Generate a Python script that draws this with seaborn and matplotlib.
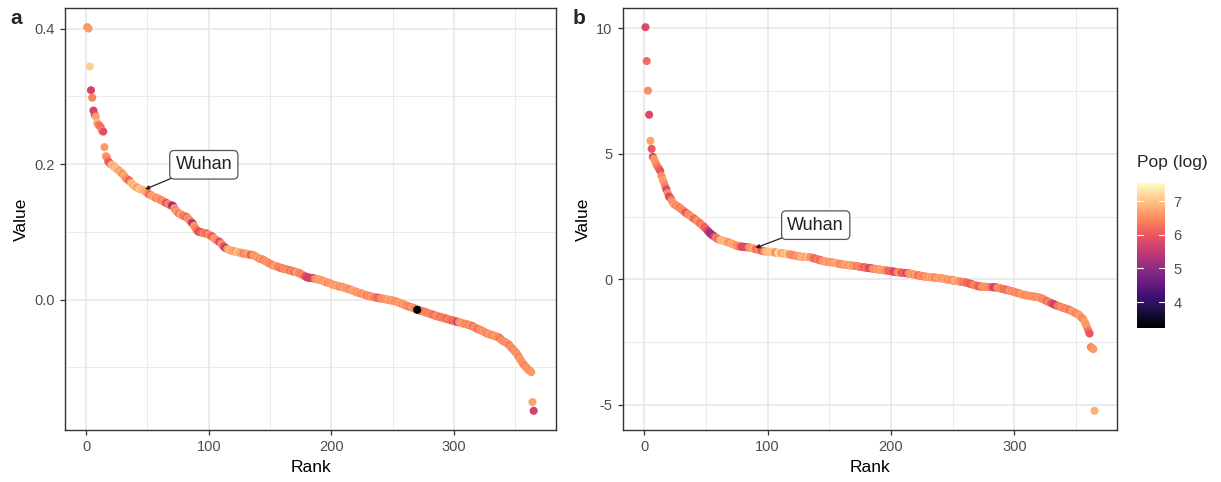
import numpy as np
import pandas as pd
import matplotlib
matplotlib.use("Agg")
import matplotlib.pyplot as plt
import seaborn as sns
from matplotlib.ticker import MultipleLocator
from matplotlib.colors import Normalize
from matplotlib.cm import ScalarMappable

# ---- data -------------------------------------------------------------
value_a = [
    .402, .400, .344, .309, .298, .279, .273, .270, .261, .258,
    .257, .254, .249, .248, .225, .212, .210, .204, .202, .200,
    .199, .198, .196, .194, .193, .192, .190, .188, .187, .185,
    .183, .180, .178, .177, .176, .174, .172, .170, .168, .167,
    .166, .165, .164, .163, .163, .162, .162, .160, .158, .157,
    .156, .155, .154, .153, .152, .151, .150, .150, .149, .148,
    .147, .146, .145, .144, .143, .142, .141, .140, .139, .139,
    .138, .135, .132, .130, .128, .127, .126, .125, .124, .123,
    .123, .122, .120, .118, .116, .114, .112, .109, .106, .103,
    .101, .100, .100, .099, .099, .098, .098, .098, .097, .096,
    .095, .094, .093, .091, .090, .088, .087, .086, .085, .083,
    .081, .079, .077, .076, .075, .074, .073, .073, .072, .072,
    .071, .071, .070, .070, .070, .069, .069, .068, .068, .068,
    .067, .067, .067, .066, .066, .066, .065, .064, .063, .062,
    .061, .060, .060, .059, .058, .057, .056, .055, .054, .053,
    .052, .051, .050, .050, .049, .049, .048, .047, .047, .046,
    .046, .045, .045, .044, .044, .043, .043, .042, .042, .041,
    .041, .040, .040, .039, .038, .037, .036, .035, .034, .033,
    .033, .032, .032, .032, .032, .031, .031, .030, .030, .030,
    .029, .029, .028, .027, .026, .026, .025, .025, .024, .023,
    .022, .022, .021, .021, .020, .020, .019, .019, .019, .018,
    .017, .017, .016, .016, .015, .014, .014, .013, .012, .012,
    .011, .010, .010, .009, .009, .008, .007, .007, .006, .006,
    .005, .005, .004, .004, .004, .003, .003, .003, .002, .002,
    .002, .001, .001, .001, .000, .000, .000, -.001, -.001, -.001,
    -.002, -.002, -.003, -.004, -.004, -.005, -.006, -.006, -.007, -.008,
    -.009, -.009, -.010, -.011, -.011, -.012, -.012, -.013, -.014, -.015,
    -.015, -.016, -.016, -.017, -.017, -.018, -.019, -.019, -.020, -.021,
    -.021, -.022, -.022, -.023, -.024, -.024, -.025, -.025, -.026, -.026,
    -.027, -.027, -.028, -.028, -.029, -.029, -.030, -.030, -.031, -.031,
    -.032, -.032, -.033, -.033, -.034, -.034, -.035, -.035, -.036, -.036,
    -.037, -.037, -.038, -.038, -.039, -.040, -.041, -.042, -.043, -.044,
    -.044, -.045, -.046, -.047, -.048, -.049, -.050, -.050, -.051, -.052,
    -.052, -.053, -.053, -.054, -.055, -.055, -.056, -.058, -.060, -.061,
    -.062, -.063, -.064, -.065, -.067, -.069, -.071, -.073, -.075, -.077,
    -.079, -.082, -.085, -.088, -.091, -.094, -.096, -.098, -.100, -.102,
    -.104, -.105, -.107, -.151, -.164,
]

pop_a = [
    6.5, 6.6, 7.1, 5.7, 6.4, 5.7, 5.8, 6.7, 6.9, 6.5,
    6.3, 6.2, 6.6, 5.9, 6.6, 6.8, 6.5, 6.2, 5.9, 6.1,
    7.0, 6.9, 6.7, 7.1, 6.8, 7.0, 6.6, 6.9, 6.7, 6.5,
    6.8, 6.7, 6.4, 6.6, 6.0, 6.3, 6.9, 7.0, 6.7, 7.1,
    6.8, 6.6, 6.9, 7.0, 7.1, 6.8, 7.0, 6.7, 6.9, 6.6,
    6.4, 6.1, 6.5, 6.7, 6.6, 6.8, 6.4, 6.5, 6.7, 6.6,
    6.5, 6.3, 6.7, 6.4, 6.2, 5.7, 6.6, 6.3, 6.5, 5.3,
    5.2, 6.6, 6.4, 6.7, 6.5, 6.3, 6.6, 6.8, 6.4, 6.2,
    6.5, 6.1, 6.6, 6.4, 6.7, 5.9, 5.3, 6.6, 6.5, 6.4,
    6.2, 5.8, 5.7, 6.3, 6.0, 6.6, 6.2, 6.4, 6.1, 6.5,
    6.6, 6.2, 6.0, 6.4, 6.7, 6.5, 6.6, 6.2, 5.7, 6.4,
    6.6, 6.1, 5.8, 5.2, 6.5, 6.7, 6.9, 7.0, 6.6, 6.8,
    6.7, 6.5, 7.1, 6.9, 7.0, 6.6, 6.8, 6.5, 6.3, 6.7,
    6.5, 6.6, 6.8, 6.2, 6.0, 6.4, 6.7, 6.6, 6.5, 6.8,
    6.6, 6.4, 6.7, 6.5, 6.3, 6.6, 6.5, 6.7, 6.4, 6.6,
    6.5, 6.3, 6.6, 6.7, 6.8, 6.4, 6.5, 6.2, 6.6, 6.1,
    6.5, 6.6, 6.3, 6.7, 6.4, 6.5, 6.2, 6.6, 6.4, 6.1,
    6.5, 6.7, 6.6, 6.4, 6.5, 6.3, 6.6, 6.2, 6.0, 5.8,
    5.7, 5.5, 5.8, 5.7, 5.6, 6.0, 6.4, 6.6, 6.5, 6.7,
    6.6, 6.8, 6.5, 6.7, 6.6, 6.9, 6.4, 6.6, 6.7, 6.5,
    6.8, 6.6, 6.7, 6.5, 6.9, 6.6, 6.4, 6.7, 6.5, 6.6,
    6.8, 6.5, 6.7, 6.6, 6.4, 6.7, 6.5, 6.9, 6.6, 6.7,
    6.5, 6.6, 6.8, 6.4, 6.6, 6.5, 6.7, 6.6, 6.3, 6.5,
    6.6, 6.4, 6.7, 6.5, 6.6, 6.2, 6.4, 6.1, 6.2, 6.3,
    6.5, 6.6, 6.4, 6.7, 6.5, 6.6, 6.8, 6.5, 6.6, 6.7,
    6.5, 6.6, 6.4, 6.7, 6.5, 6.8, 6.6, 6.5, 6.7, 6.6,
    6.5, 6.4, 6.6, 6.3, 6.5, 6.7, 6.6, 6.4, 6.5, 3.2,
    6.5, 6.4, 6.3, 6.5, 6.6, 6.2, 6.4, 6.5, 6.3, 6.6,
    6.4, 6.5, 6.2, 6.3, 6.4, 6.5, 6.6, 6.3, 6.4, 6.2,
    6.5, 6.3, 6.4, 6.1, 6.3, 6.5, 6.2, 6.4, 6.0, 6.3,
    6.2, 6.1, 5.4, 6.4, 6.6, 6.5, 6.7, 6.6, 6.4, 6.5,
    6.6, 6.3, 6.5, 6.7, 6.2, 6.4, 6.5, 6.6, 6.3, 6.2,
    6.5, 6.6, 6.4, 6.7, 6.5, 6.6, 6.4, 6.5, 6.7, 6.6,
    6.5, 6.4, 6.6, 6.7, 6.5, 6.6, 6.4, 6.3, 6.5, 6.6,
    6.4, 6.6, 6.5, 6.7, 6.3, 6.5, 6.6, 6.4, 6.5, 6.6,
    6.5, 6.6, 6.4, 6.7, 6.5, 6.6, 6.5, 6.4, 6.6, 6.5,
    6.6, 6.5, 6.6, 6.7, 5.7,
]

value_b = [
    10.05, 8.70, 7.52, 6.56, 5.52, 5.20, 4.88, 4.80, 4.68, 4.56,
    4.48, 4.40, 4.32, 4.12, 3.96, 3.86, 3.70, 3.58, 3.44, 3.30,
    3.26, 3.18, 3.08, 3.00, 2.97, 2.94, 2.91, 2.88, 2.84, 2.80,
    2.76, 2.72, 2.68, 2.64, 2.61, 2.58, 2.54, 2.50, 2.47, 2.43,
    2.40, 2.36, 2.32, 2.28, 2.24, 2.20, 2.16, 2.12, 2.07, 2.02,
    1.96, 1.91, 1.86, 1.80, 1.77, 1.74, 1.70, 1.67, 1.63, 1.60,
    1.58, 1.57, 1.55, 1.54, 1.52, 1.51, 1.50, 1.48, 1.46, 1.44,
    1.42, 1.40, 1.38, 1.36, 1.34, 1.32, 1.31, 1.31, 1.30, 1.30,
    1.29, 1.29, 1.28, 1.28, 1.27, 1.26, 1.25, 1.24, 1.23, 1.21,
    1.20, 1.19, 1.17, 1.16, 1.15, 1.13, 1.12, 1.11, 1.11, 1.10,
    1.10, 1.09, 1.09, 1.08, 1.08, 1.07, 1.07, 1.06, 1.05, 1.05,
    1.04, 1.04, 1.03, 1.02, 1.02, 1.01, 1.00, 0.99, 0.98, 0.97,
    0.96, 0.95, 0.94, 0.93, 0.92, 0.91, 0.91, 0.90, 0.90, 0.90,
    0.89, 0.89, 0.89, 0.88, 0.88, 0.86, 0.85, 0.83, 0.82, 0.80,
    0.79, 0.78, 0.76, 0.75, 0.73, 0.72, 0.71, 0.70, 0.70, 0.69,
    0.68, 0.68, 0.67, 0.66, 0.65, 0.64, 0.63, 0.62, 0.61, 0.60,
    0.59, 0.59, 0.58, 0.58, 0.57, 0.56, 0.56, 0.55, 0.55, 0.54,
    0.53, 0.53, 0.52, 0.51, 0.50, 0.49, 0.49, 0.48, 0.47, 0.46,
    0.46, 0.45, 0.45, 0.44, 0.43, 0.42, 0.42, 0.41, 0.40, 0.39,
    0.39, 0.38, 0.37, 0.37, 0.36, 0.35, 0.35, 0.34, 0.33, 0.32,
    0.32, 0.31, 0.30, 0.29, 0.29, 0.28, 0.27, 0.27, 0.26, 0.26,
    0.25, 0.25, 0.24, 0.24, 0.23, 0.22, 0.21, 0.20, 0.19, 0.18,
    0.17, 0.16, 0.15, 0.14, 0.13, 0.12, 0.12, 0.11, 0.10, 0.10,
    0.09, 0.09, 0.08, 0.08, 0.07, 0.07, 0.06, 0.06, 0.05, 0.05,
    0.04, 0.03, 0.02, 0.01, 0.00, -0.01, -0.02, -0.02, -0.03, -0.04,
    -0.05, -0.06, -0.06, -0.07, -0.08, -0.09, -0.10, -0.10, -0.11, -0.12,
    -0.13, -0.14, -0.16, -0.17, -0.19, -0.20, -0.22, -0.23, -0.25, -0.26,
    -0.28, -0.28, -0.29, -0.29, -0.29, -0.30, -0.30, -0.30, -0.30, -0.31,
    -0.31, -0.31, -0.31, -0.32, -0.32, -0.33, -0.34, -0.35, -0.36, -0.38,
    -0.39, -0.40, -0.41, -0.42, -0.44, -0.45, -0.46, -0.47, -0.49, -0.50,
    -0.52, -0.53, -0.55, -0.56, -0.58, -0.60, -0.61, -0.62, -0.63, -0.64,
    -0.65, -0.66, -0.67, -0.67, -0.68, -0.69, -0.70, -0.70, -0.71, -0.72,
    -0.74, -0.76, -0.78, -0.81, -0.83, -0.86, -0.88, -0.91, -0.93, -0.95,
    -0.97, -0.99, -1.02, -1.04, -1.06, -1.07, -1.09, -1.11, -1.13, -1.14,
    -1.16, -1.17, -1.19, -1.20, -1.23, -1.25, -1.28, -1.30, -1.33, -1.36,
    -1.38, -1.40, -1.45, -1.50, -1.55, -1.60, -1.70, -1.80, -1.92, -2.05,
    -2.16, -2.70, -2.74, -2.78, -5.24,
]

pop_b = [
    5.8, 6.2, 6.5, 5.8, 6.7, 6.0, 5.8, 6.6, 6.6, 6.5,
    6.4, 6.2, 6.0, 6.5, 6.7, 6.6, 6.4, 5.8, 6.5, 5.8,
    5.8, 6.3, 6.6, 6.5, 6.7, 6.4, 6.6, 6.5, 6.3, 6.6,
    6.4, 6.5, 6.3, 5.8, 6.2, 6.6, 6.4, 6.5, 6.7, 6.3,
    6.1, 6.4, 6.5, 6.6, 6.3, 6.2, 6.5, 6.4, 6.0, 6.2,
    5.9, 5.6, 5.3, 5.1, 5.3, 5.2, 5.7, 6.2, 6.5, 5.9,
    6.6, 6.8, 7.0, 6.9, 6.7, 7.1, 6.8, 6.6, 6.5, 6.7,
    6.9, 6.6, 6.8, 6.7, 6.5, 6.6, 6.4, 6.3, 5.8, 5.7,
    5.9, 5.7, 5.8, 5.9, 6.6, 6.5, 6.7, 6.6, 7.0, 6.4,
    6.3, 6.2, 6.6, 6.5, 6.1, 6.0, 6.3, 6.6, 6.8, 7.0,
    6.9, 7.1, 6.8, 7.2, 7.0, 6.6, 6.5, 6.7, 7.3, 7.2,
    6.8, 6.6, 6.9, 7.1, 6.7, 7.3, 6.8, 6.6, 6.5, 6.4,
    6.6, 6.3, 6.5, 6.7, 6.6, 6.5, 6.8, 6.9, 6.7, 7.0,
    6.6, 6.8, 7.1, 6.7, 6.5, 6.6, 6.4, 6.2, 6.1, 6.3,
    6.5, 6.2, 6.1, 6.4, 6.6, 6.5, 6.7, 6.6, 6.8, 6.5,
    6.6, 6.7, 6.5, 6.8, 6.6, 6.9, 6.7, 6.5, 6.6, 6.4,
    6.6, 6.5, 6.7, 6.8, 6.6, 6.5, 6.7, 6.9, 6.6, 6.5,
    6.7, 6.4, 6.3, 6.5, 6.6, 6.2, 6.4, 6.1, 6.0, 6.3,
    6.2, 5.9, 5.8, 5.8, 6.3, 6.5, 6.6, 6.4, 6.7, 6.6,
    6.5, 6.8, 6.6, 6.7, 6.5, 6.6, 6.4, 6.2, 6.0, 6.3,
    6.1, 5.8, 5.7, 5.8, 6.2, 6.5, 6.6, 6.4, 6.0, 5.9,
    6.3, 5.8, 5.7, 6.2, 6.6, 6.5, 6.7, 6.6, 6.4, 6.8,
    6.6, 6.3, 6.2, 6.5, 6.6, 6.4, 6.3, 6.6, 6.7, 6.5,
    6.6, 6.8, 6.5, 6.7, 6.6, 6.4, 6.5, 6.7, 6.6, 6.8,
    6.6, 6.5, 6.7, 6.6, 6.8, 6.5, 6.6, 6.7, 6.5, 3.2,
    6.7, 6.8, 6.9, 6.6, 6.7, 6.5, 6.6, 6.4, 6.3, 6.5,
    6.2, 6.1, 6.3, 6.0, 6.1, 6.2, 6.3, 6.5, 6.4, 6.3,
    6.1, 6.0, 6.2, 6.5, 6.6, 6.4, 6.7, 6.5, 6.6, 6.4,
    6.5, 6.2, 5.8, 5.6, 5.7, 6.3, 6.5, 6.6, 6.4, 6.5,
    6.3, 6.2, 6.4, 6.1, 6.3, 6.5, 6.6, 6.4, 6.6, 6.5,
    6.4, 6.6, 6.5, 6.3, 6.6, 6.5, 6.7, 6.6, 6.4, 6.5,
    6.6, 6.5, 6.7, 6.4, 6.6, 6.5, 6.6, 6.4, 6.5, 6.7,
    6.6, 6.5, 6.4, 6.6, 6.5, 6.3, 6.2, 6.5, 6.4, 6.1,
    5.9, 5.7, 5.6, 5.7, 6.2, 6.4, 6.3, 6.5, 6.6, 6.4,
    6.5, 6.3, 6.6, 6.4, 6.2, 6.5, 6.6, 6.7, 6.5, 6.4,
    6.6, 6.5, 6.7, 6.6, 6.4, 6.5, 6.7, 6.6, 6.6, 6.3,
    6.0, 6.4, 6.5, 6.6, 6.8,
]

# rank of the labelled city in each ordering
wuhan_rank_a = 47
wuhan_rank_b = 89
pop_limits = (3.23, 7.54)
cbar_ticks = [4, 5, 6, 7]

# ---- style ------------------------------------------------------------
sns.set_theme(style="white")
plt.rcParams["font.family"] = ["Liberation Sans", "DejaVu Sans"]
plt.rcParams["axes.unicode_minus"] = False

GRID = "#E6E6E6"
BORDER = "#333333"
TICKLAB = "#4D4D4D"

fig = plt.figure(figsize=(12.21, 4.82), dpi=100)
W, H = 1221, 482


def px_axes(x0, y0, x1, y1):
    return fig.add_axes([x0 / W, 1 - y1 / H, (x1 - x0) / W, (y1 - y0) / H])


ax_a = px_axes(65, 8, 556, 430)
ax_b = px_axes(623, 8, 1117, 430)
cax = px_axes(1137, 183, 1165, 328)

cmap = sns.color_palette("magma", as_cmap=True)
norm = Normalize(*pop_limits)


def draw_panel(ax, values, pops, wuhan_rank, label_xy, ymajor, yminor,
               letter, letter_x, darkest_on_top):
    df = pd.DataFrame({
        "Rank": np.arange(1, len(values) + 1),
        "Value": values,
        "Pop": pops,
    })
    # the smallest city is either painted over by its neighbours or on top
    small = (df["Pop"] < 4).astype(int)
    order = small if darkest_on_top else -small
    df = df.assign(_o=order).sort_values(["_o", "Rank"], kind="stable")

    sns.scatterplot(data=df, x="Rank", y="Value", hue="Pop", palette=cmap,
                    hue_norm=pop_limits, s=34, linewidth=0, alpha=1,
                    legend=False, ax=ax, zorder=3)

    # ggplot-style 5% padding around the data range
    xr = df["Rank"].max() - df["Rank"].min()
    ax.set_xlim(df["Rank"].min() - 0.05 * xr, df["Rank"].max() + 0.05 * xr)
    yr = df["Value"].max() - df["Value"].min()
    ax.set_ylim(df["Value"].min() - 0.05 * yr, df["Value"].max() + 0.05 * yr)

    ax.xaxis.set_major_locator(MultipleLocator(100))
    ax.xaxis.set_minor_locator(MultipleLocator(50))
    ax.yaxis.set_major_locator(MultipleLocator(ymajor))
    ax.yaxis.set_minor_locator(MultipleLocator(yminor))
    ax.grid(True, which="major", color=GRID, linewidth=1.1, zorder=0)
    ax.grid(True, which="minor", color=GRID, linewidth=0.55, zorder=0)
    ax.set_axisbelow(True)
    ax.set_facecolor("white")
    for sp in ax.spines.values():
        sp.set_color(BORDER)
        sp.set_linewidth(1.0)
    ax.tick_params(which="major", direction="out", length=3.5, width=0.9,
                   color=BORDER, labelcolor=TICKLAB, labelsize=10.5, pad=4,
                   left=True, bottom=True)
    ax.tick_params(which="minor", length=0)
    ax.set_xlabel("Rank", fontsize=12.5, color="black", labelpad=4)
    ax.set_ylabel("Value", fontsize=12.5, color="black", labelpad=4)

    wy = df.loc[df["Rank"] == wuhan_rank, "Value"].iloc[0]
    ax.annotate("Wuhan", xy=(wuhan_rank, wy), xytext=label_xy,
                textcoords="data", ha="center", va="center",
                fontsize=13, color="#222222", zorder=5,
                bbox=dict(boxstyle="round,pad=0.32,rounding_size=0.25",
                          fc="white", ec="#555555", lw=0.9),
                arrowprops=dict(arrowstyle="-|>", color="#222222", lw=0.9,
                                mutation_scale=6, shrinkA=0, shrinkB=1))
    fig.text(letter_x / W, 1 - 19 / H, letter, fontsize=15, fontweight="bold",
             ha="center", va="center")


draw_panel(ax_a, value_a, pop_a, wuhan_rank_a, (96, 0.199), 0.2, 0.1, "a", 16, True)
draw_panel(ax_b, value_b, pop_b, wuhan_rank_b, (139, 2.16), 5, 2.5, "b", 579, False)

# ---- colour bar ------------------------------------------------------
sm = ScalarMappable(norm=norm, cmap=cmap)
cb = fig.colorbar(sm, cax=cax, ticks=cbar_ticks)
cb.outline.set_visible(False)
cax.tick_params(length=0, labelsize=10.5, labelcolor=TICKLAB, pad=6)
for t in cbar_ticks:
    cax.plot([0, 0.2], [t, t], color="white", lw=0.8, transform=cax.get_yaxis_transform())
    cax.plot([0.8, 1.0], [t, t], color="white", lw=0.8, transform=cax.get_yaxis_transform())
fig.text(1137 / W, 1 - 163 / H, "Pop (log)", fontsize=12.5, ha="left", va="center")

fig.savefig("out.png", dpi=100)
